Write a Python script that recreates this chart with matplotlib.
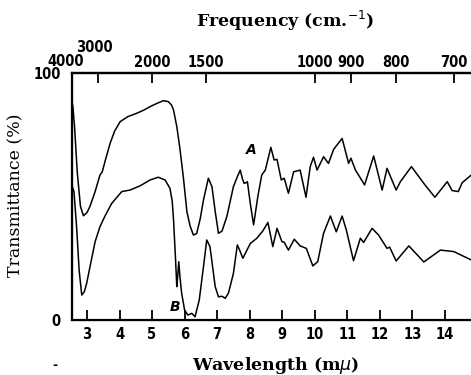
import matplotlib
matplotlib.use("Agg")
import matplotlib.pyplot as plt

waveA = [2.55, 2.57, 2.62, 2.70, 2.80, 2.89, 3.0, 3.09, 3.25, 3.4, 3.47, 3.55, 3.71, 3.85, 4.02, 4.25,
         4.53, 4.75, 4.94, 5.15, 5.35, 5.5, 5.6, 5.66, 5.76, 5.85, 5.96, 6.07, 6.17, 6.27, 6.37, 6.48,
         6.58, 6.73, 6.84, 6.94, 7.04, 7.15, 7.3, 7.5, 7.62, 7.71, 7.78, 7.83, 7.89, 7.93, 8.02, 8.12,
         8.25, 8.37, 8.48, 8.65, 8.75, 8.84, 8.97, 9.06, 9.19, 9.35, 9.55, 9.73, 9.86, 9.96, 10.07,
         10.27, 10.42, 10.58, 10.84, 11.04, 11.11, 11.25, 11.53, 11.81, 12.07, 12.22, 12.5, 12.63,
         12.97, 13.35, 13.69, 14.07, 14.22, 14.41, 14.53, 14.81]
transA = [87.7, 86, 78, 60, 46, 42.2, 43.5, 45.9, 52, 58.7, 60, 64, 71.5, 76.5, 80.3, 82.3,
          83.7, 85, 86.4, 87.7, 88.8, 88.4, 87, 85, 78.3, 70, 58, 43.9, 38, 34.4, 35, 41,
          48.6, 57.4, 54, 44, 35.1, 36, 42, 54, 58, 60.7, 57, 55.3, 55.6, 56, 47, 38.5,
          50, 58.7, 60.7, 69.9, 64.8, 65, 56.7, 57.4, 51.3, 60, 60.7, 49.7, 62.1, 65.9, 60.7,
          66.1, 63.4, 69.1, 73.5, 63.4, 65.5, 60.7, 54.7, 66.4, 52.6, 61.4, 52.6, 56,
          62.1, 55.3, 49.7, 56, 52.4, 52, 55.6, 58.7]

waveB = [2.55, 2.6, 2.68, 2.76, 2.84, 2.92, 2.99, 3.1, 3.25, 3.4, 3.55, 3.76, 4.07, 4.32, 4.63,
         4.94, 5.19, 5.4, 5.55, 5.62, 5.66, 5.72, 5.76, 5.79, 5.82, 5.86, 5.91, 6.0, 6.1, 6.22,
         6.32, 6.45, 6.58, 6.68, 6.78, 6.94, 7.04, 7.15, 7.25, 7.35, 7.5, 7.62, 7.7, 7.79, 8.02,
         8.22, 8.4, 8.56, 8.71, 8.84, 8.99, 9.06, 9.19, 9.37, 9.55, 9.74, 9.94, 10.09, 10.27,
         10.48, 10.66, 10.84, 10.97, 11.19, 11.4, 11.5, 11.76, 11.96, 12.22, 12.3, 12.5, 12.89,
         13.35, 13.86, 14.27, 14.81]
transB = [54, 52, 38, 20, 10.1, 11.5, 14.8, 22, 31.7, 37.8, 42, 47.2, 52, 52.6, 54.3,
          56.7, 57.8, 56.7, 53.3, 48, 40.5, 25, 13.5, 18, 23.6, 17, 10.8, 4, 2, 2.7,
          1.3, 8.1, 21.6, 32.4, 29.7, 13.5, 9.4, 9.6, 8.8, 11, 18.9, 30.4, 28, 25, 31,
          33.1, 36, 39.5, 29.7, 37.1, 31.7, 31.5, 28.3, 32.7, 30, 29, 21.9, 23.6, 35.1,
          42.1, 35.7, 42.1, 36.4, 24, 33.1, 31.4, 37.1, 34.4, 29, 29.5, 23.9, 30,
          23.5, 28.3, 27.7, 24.3]

wave_ticks = [3, 4, 5, 6, 7, 8, 9, 10, 11, 12, 13, 14]
freq_ticks = [3000, 2000, 1500, 1000, 900, 800, 700]
freq_labels = ["", "2000", "1500", "1000", "900", "800", "700"]

W, H = 471, 375
fig = plt.figure(figsize=(W / 100, H / 100), dpi=100)
ax = fig.add_axes([72 / W, 1 - 320 / H, 1 - 72 / W, (320 - 73) / H])

ax.plot(waveA, transA, color="black", lw=1.1)
ax.plot(waveB, transB, color="black", lw=1.1)

xlim = (2.54, 14.8)
ax.set_xlim(*xlim)
ax.set_ylim(0, 100)

tickfont = dict(family=["DejaVu Sans"], stretch="condensed", weight="semibold", size=10.5)

ax.set_xticks(wave_ticks)
ax.set_xticklabels([str(t) for t in wave_ticks], fontdict=tickfont)
ax.tick_params(axis="x", direction="in", length=7, width=1.3, pad=5)
ax.set_yticks([0, 100])
ax.set_yticklabels(["0", "100"], fontdict=tickfont)
ax.tick_params(axis="y", length=0, pad=8)

for s in ["left", "bottom"]:
    ax.spines[s].set_linewidth(1.6)
ax.spines["right"].set_visible(False)
ax.spines["top"].set_linewidth(1.6)

ax2 = ax.twiny()
ax2.set_xlim(*xlim)
ax2.set_xticks([1e4 / f for f in freq_ticks])
ax2.set_xticklabels(freq_labels, fontdict=tickfont)
ax2.tick_params(axis="x", direction="in", length=7, width=1.3, pad=2)
ax2.spines["right"].set_visible(False)
ax2.spines["top"].set_linewidth(1.6)

fig.text(66 / W, 1 - 62 / H, "4000", ha="center", va="center", **tickfont)
fig.text(94 / W, 1 - 48 / H, "3000", ha="center", va="center", **tickfont)

serif = dict(family=["DejaVu Serif"], weight="semibold", size=12.5)
fig.text(285 / W, 1 - 21 / H, "Frequency (cm.$^{-1}$)", ha="center", va="center", **serif)
fig.text(276 / W, 1 - 366 / H, "Wavelength (m$\\mu$)", ha="center", va="center", **serif)
fig.text(16 / W, 1 - 195 / H, "Transmittance (%)", ha="center", va="center", rotation=90,
         family=["DejaVu Serif"], size=12.5)
fig.text(55 / W, 1 - 365 / H, "-", ha="center", va="center", fontsize=9, weight="bold")

ax.text(8.06, 68.8, "A", style="italic", weight="bold", fontsize=10, ha="center", va="center",
        family=["DejaVu Sans"])
ax.text(5.69, 5.1, "B", style="italic", weight="bold", fontsize=10, ha="center", va="center",
        family=["DejaVu Sans"])

fig.savefig("out.png", dpi=100)
